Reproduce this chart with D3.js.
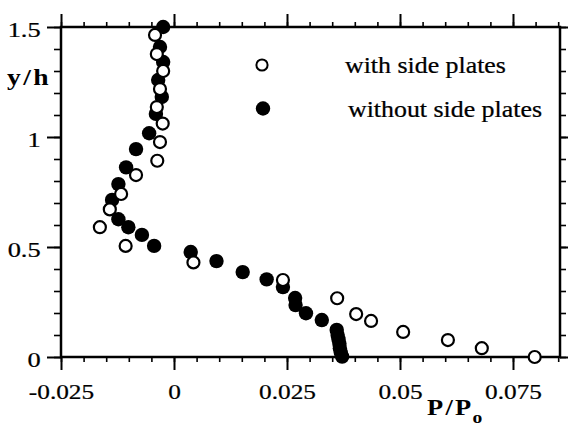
<!DOCTYPE html>
<html>
<head>
<meta charset="utf-8">
<script src="https://cdn.jsdelivr.net/npm/d3@7"></script>
<style>
  html, body { margin: 0; padding: 0; background: #fff; }
  svg { display: block; }
</style>
</head>
<body>
<svg id="chart" width="568" height="426"></svg>
<script>
// Pressure ratio P/Po against height y/h, with and without side plates
const withPlatesX = [-0.0042, -0.0038, -0.0024, -0.0031, -0.0038, -0.0025, -0.0031, -0.0037,
  -0.0084, -0.0117, -0.0142, -0.0164, -0.0107, 0.0043, 0.0241, 0.0361, 0.0403, 0.0436,
  0.0507, 0.0606, 0.0681, 0.0798];
const withPlatesY = [1.464, 1.377, 1.300, 1.218, 1.136, 1.061, 0.977, 0.892,
  0.827, 0.741, 0.671, 0.590, 0.505, 0.430, 0.350, 0.267, 0.195, 0.164,
  0.114, 0.077, 0.040, 0.000];

const withoutPlatesX = [-0.0024, -0.0031, -0.0024, -0.0035, -0.0027, -0.0040, -0.0055, -0.0084,
  -0.0106, -0.0123, -0.0137, -0.0123, -0.0101, -0.0071, -0.0044, 0.0037, 0.0094, 0.0152,
  0.0205, 0.0241, 0.0268, 0.0269, 0.0292, 0.0327, 0.0360, 0.0362, 0.0364, 0.0366,
  0.0367, 0.0369, 0.0372];
const withoutPlatesY = [1.500, 1.409, 1.341, 1.259, 1.182, 1.105, 1.017, 0.945,
  0.862, 0.786, 0.714, 0.626, 0.590, 0.555, 0.505, 0.477, 0.436, 0.386,
  0.353, 0.318, 0.268, 0.236, 0.199, 0.168, 0.123, 0.100, 0.080, 0.060,
  0.040, 0.020, 0.002];

const seriesNames = ["with side plates", "without side plates"];

const xTickValues = [-0.025, 0, 0.025, 0.05, 0.075];
const xTickLabels = ["-0.025", "0", "0.025", "0.05", "0.075"];
const yTickValues = [0, 0.5, 1, 1.5];
const yTickLabels = ["0", "0.5", "1", "1.5"];

const W = 568, H = 426;
const plot = { left: 61, right: 560, top: 27, bottom: 357 };
const serif = '"Liberation Serif", "Times New Roman", Times, serif';
const textStretch = 1.15;

const x = d3.scaleLinear().domain([-0.025, 0.0854]).range([plot.left, plot.right]);
const y = d3.scaleLinear().domain([0, 1.5]).range([plot.bottom, plot.top]);

const xMinor = d3.range(-5, 18).map(i => +(i * 0.005).toFixed(3));
const yMinor = d3.range(0, 16).map(i => +(i * 0.1).toFixed(1));

const svg = d3.select("#chart");
svg.append("rect").attr("width", W).attr("height", H).attr("fill", "#fff");

function styleAxis(g, width) {
  g.select(".domain").remove();
  g.attr("font-family", serif);
  g.selectAll(".tick line").attr("stroke", "#000").attr("stroke-width", width);
}

// Slightly heavier glyphs for all labels
function inkText(sel) {
  sel.attr("fill", "#000").attr("stroke", "#000").attr("stroke-width", 0.25);
}

// Minor ticks on all four sides
svg.append("g").attr("transform", `translate(0,${plot.bottom})`)
  .call(d3.axisBottom(x).tickValues(xMinor).tickFormat("").tickSize(5))
  .call(g => styleAxis(g, 1.6));
svg.append("g").attr("transform", `translate(0,${plot.top})`)
  .call(d3.axisTop(x).tickValues(xMinor).tickFormat("").tickSize(5))
  .call(g => styleAxis(g, 1.6));
svg.append("g").attr("transform", `translate(${plot.left},0)`)
  .call(d3.axisLeft(y).tickValues(yMinor).tickFormat("").tickSize(7))
  .call(g => styleAxis(g, 1.6));
svg.append("g").attr("transform", `translate(${plot.right},0)`)
  .call(d3.axisRight(y).tickValues(yMinor).tickFormat("").tickSize(6))
  .call(g => styleAxis(g, 1.6));

// Major ticks and labels
const xAxis = svg.append("g").attr("transform", `translate(0,${plot.bottom})`)
  .call(d3.axisBottom(x).tickValues(xTickValues)
    .tickFormat((d, i) => xTickLabels[i]).tickSize(13).tickPadding(13))
  .call(g => styleAxis(g, 2));
xAxis.selectAll(".tick text")
  .style("font-family", serif).style("font-size", "22px")
  .attr("dy", "0.72em")
  .attr("transform", `scale(${textStretch},1)`)
  .call(inkText);

svg.append("g").attr("transform", `translate(0,${plot.top})`)
  .call(d3.axisTop(x).tickValues(xTickValues).tickFormat("").tickSize(13))
  .call(g => styleAxis(g, 2));

const yAxis = svg.append("g").attr("transform", `translate(${plot.left},0)`)
  .call(d3.axisLeft(y).tickValues(yTickValues)
    .tickFormat((d, i) => yTickLabels[i]).tickSize(14).tickPadding(3))
  .call(g => styleAxis(g, 2));
yAxis.selectAll(".tick text")
  .style("font-family", serif).style("font-size", "22px")
  .attr("dy", "0.42em")
  .attr("transform", `scale(1.2,1)`)
  .call(inkText);

svg.append("g").attr("transform", `translate(${plot.right},0)`)
  .call(d3.axisRight(y).tickValues(yTickValues).tickFormat("").tickSize(12))
  .call(g => styleAxis(g, 2));

// Frame
svg.append("rect")
  .attr("x", plot.left).attr("y", plot.top)
  .attr("width", plot.right - plot.left).attr("height", plot.bottom - plot.top)
  .attr("fill", "none").attr("stroke", "#000").attr("stroke-width", 2.5);

// Data: solid markers first, hollow markers on top
const withoutPts = withoutPlatesX.map((v, i) => [v, withoutPlatesY[i]]);
const withPts = withPlatesX.map((v, i) => [v, withPlatesY[i]]);

svg.append("g").selectAll("circle").data(withoutPts).join("circle")
  .attr("cx", d => x(d[0])).attr("cy", d => y(d[1]))
  .attr("r", 7.2).attr("fill", "#000");

svg.append("g").selectAll("circle").data(withPts).join("circle")
  .attr("cx", d => x(d[0])).attr("cy", d => y(d[1]))
  .attr("r", 6).attr("fill", "#fff").attr("stroke", "#000").attr("stroke-width", 2.2);

// Axis titles
const yTitle = svg.append("text")
  .attr("transform", `translate(7,85) scale(1.2,1)`)
  .style("font-family", serif).style("font-size", "23px").style("font-weight", "bold")
  .attr("letter-spacing", 2);
yTitle.text("y/h");

const xTitle = svg.append("text")
  .attr("transform", `translate(427,415) scale(${textStretch},1)`)
  .style("font-family", serif).style("font-size", "23px").style("font-weight", "bold")
  .attr("letter-spacing", 2);
xTitle.append("tspan").text("P/P");
xTitle.append("tspan").style("font-size", "17px").attr("dy", 8).attr("dx", -1).text("o");

// Legend
const legend = svg.append("g");
legend.append("circle").attr("cx", 262).attr("cy", 65).attr("r", 5.6)
  .attr("fill", "#fff").attr("stroke", "#000").attr("stroke-width", 2);
legend.append("circle").attr("cx", 263).attr("cy", 108.5).attr("r", 7.2)
  .attr("fill", "#000");
legend.append("text")
  .attr("transform", `translate(345,73) scale(1.15,1)`)
  .style("font-family", serif).style("font-size", "22.5px").text(seriesNames[0])
  .call(inkText);
legend.append("text")
  .attr("transform", `translate(348,117) scale(1.15,1)`)
  .style("font-family", serif).style("font-size", "22.5px").text(seriesNames[1])
  .call(inkText);
</script>
</body>
</html>
